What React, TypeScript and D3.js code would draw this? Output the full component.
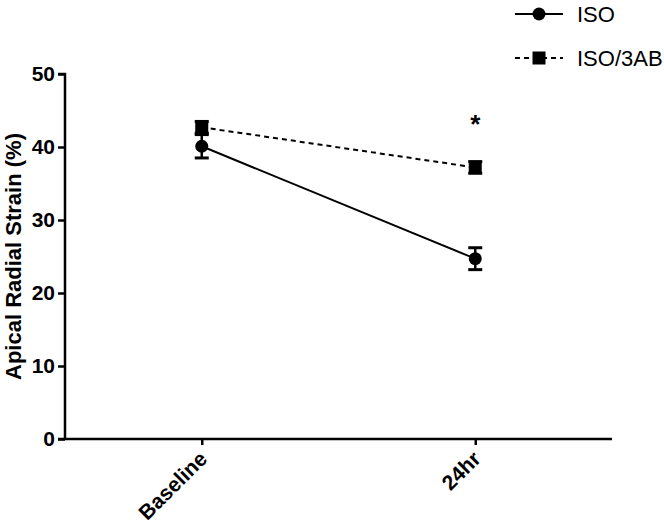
import React, { useEffect, useRef } from "react";
import * as d3 from "d3";

const timepoints = ["Baseline", "24hr"];
const isoMean = [40.1, 24.7];
const isoSem = [1.6, 1.5];
const isoAbMean = [42.7, 37.2];
const isoAbSem = [0.8, 0.8];
const yTicks = [0, 10, 20, 30, 40, 50];

const App = () => {
  const ref = useRef<SVGSVGElement>(null);

  useEffect(() => {
    const svg = d3.select(ref.current);
    svg.selectAll("*").remove();
    const font = "'Liberation Sans', Arial, sans-serif";

    const x = d3.scalePoint().domain(timepoints).range([65, 612]).padding(0.5);
    const y = d3.scaleLinear().domain([0, 50]).range([439, 74]);

    // y axis
    const yAxis = svg
      .append("g")
      .attr("transform", "translate(65,0)")
      .call(d3.axisLeft(y).tickValues(yTicks).tickSize(7).tickPadding(3));
    yAxis.select(".domain").attr("stroke", "#000").attr("stroke-width", 2.5).attr("d", `M-7,${y(50)}H0V${y(0)}`);
    yAxis.selectAll(".tick line").attr("stroke", "#000").attr("stroke-width", 2.5);
    yAxis
      .selectAll(".tick text")
      .attr("font-family", font)
      .attr("font-weight", "bold")
      .attr("font-size", 21)
      .attr("fill", "#000");

    // x axis
    const xAxis = svg
      .append("g")
      .attr("transform", `translate(0,${y(0)})`)
      .call(d3.axisBottom(x).tickSize(6).tickSizeOuter(0));
    xAxis.select(".domain").attr("stroke", "#000").attr("stroke-width", 2.5).attr("d", `M58,0H612`);
    xAxis.selectAll(".tick line").attr("stroke", "#000").attr("stroke-width", 2.5);
    xAxis
      .selectAll(".tick text")
      .attr("font-family", font)
      .attr("font-weight", "bold")
      .attr("font-size", 21)
      .attr("fill", "#000")
      .attr("text-anchor", "end")
      .attr("dy", "0.35em")
      .attr("transform", "translate(1,16) rotate(-45)")
      .attr("y", 0)
      .attr("x", 0);

    // y title
    svg
      .append("text")
      .attr("transform", `translate(21,${(y(0) + y(50)) / 2}) rotate(-90)`)
      .attr("text-anchor", "middle")
      .attr("font-family", font)
      .attr("font-weight", "bold")
      .attr("font-size", 22)
      .text("Apical Radial Strain (%)");

    const series = [
      { mean: isoMean, sem: isoSem, dash: null, shape: "circle" },
      { mean: isoAbMean, sem: isoAbSem, dash: "5,4", shape: "square" },
    ];

    series.forEach((s) => {
      const pts = timepoints.map((t, i) => ({ t, v: s.mean[i], e: s.sem[i] }));
      const line = d3
        .line<{ t: string; v: number }>()
        .x((d) => x(d.t)!)
        .y((d) => y(d.v));
      svg
        .append("path")
        .datum(pts)
        .attr("fill", "none")
        .attr("stroke", "#000")
        .attr("stroke-width", 2)
        .attr("stroke-dasharray", s.dash)
        .attr("d", line);

      pts.forEach((d) => {
        const cx = x(d.t)!;
        const g = svg.append("g");
        g.append("line")
          .attr("x1", cx).attr("x2", cx)
          .attr("y1", y(d.v + d.e)).attr("y2", y(d.v - d.e))
          .attr("stroke", "#000").attr("stroke-width", 2.5);
        [d.v + d.e, d.v - d.e].forEach((v) =>
          g.append("line")
            .attr("x1", cx - 7).attr("x2", cx + 7)
            .attr("y1", y(v)).attr("y2", y(v))
            .attr("stroke", "#000").attr("stroke-width", 3)
        );
        if (s.shape === "circle") {
          g.append("circle").attr("cx", cx).attr("cy", y(d.v)).attr("r", 6.5).attr("fill", "#000");
        } else {
          g.append("rect")
            .attr("x", cx - 6.5).attr("y", y(d.v) - 6.5)
            .attr("width", 13).attr("height", 13).attr("fill", "#000");
        }
      });
    });

    // significance marker
    svg
      .append("text")
      .attr("x", x("24hr")!)
      .attr("y", y(41.9))
      .attr("text-anchor", "middle")
      .attr("font-family", font)
      .attr("font-weight", "bold")
      .attr("font-size", 26)
      .text("*");

    // legend
    const legend = [
      { label: "ISO", dash: null, shape: "circle", yy: 14 },
      { label: "ISO/3AB", dash: "5,4", shape: "square", yy: 58 },
    ];
    legend.forEach((l) => {
      svg.append("line")
        .attr("x1", 515).attr("x2", 563)
        .attr("y1", l.yy).attr("y2", l.yy)
        .attr("stroke", "#000").attr("stroke-width", 2)
        .attr("stroke-dasharray", l.dash);
      if (l.shape === "circle") {
        svg.append("circle").attr("cx", 539).attr("cy", l.yy).attr("r", 6.5).attr("fill", "#000");
      } else {
        svg.append("rect").attr("x", 532.5).attr("y", l.yy - 6.5).attr("width", 13).attr("height", 13).attr("fill", "#000");
      }
      svg.append("text")
        .attr("x", 577).attr("y", l.yy)
        .attr("dy", "0.35em")
        .attr("font-family", font)
        .attr("font-size", 22)
        .text(l.label);
    });
  }, []);

  return <svg ref={ref} width={664} height={524} style={{ position: "absolute", left: 0, top: 0 }} />;
};

export default App;
